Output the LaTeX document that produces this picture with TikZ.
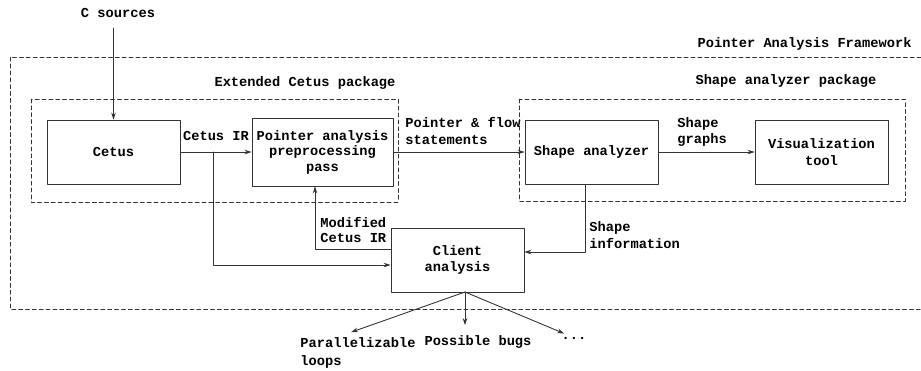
\documentclass[tikz,border=0pt]{standalone}
\usepackage{fontspec}
\setmonofont{Liberation Mono}
\usetikzlibrary{arrows.meta,calc}

\tikzset{
	box/.style={draw, minimum width=2.66cm, minimum height=1.28cm, align=center, inner sep=0pt},
	pkg/.style={dash pattern=on 2.2pt off 1.7pt},
	lbl/.style={inner sep=0pt, align=left}
}

\begin{document}
\begin{tikzpicture}[x=0.02cm, y=-0.02cm, font=\ttfamily\bfseries\fontsize{7.8}{9.6}\selectfont, line join=round, line cap=round, >={Stealth[length=4pt,width=2.6pt]}, line width=0.5pt, draw=black!80]
	\useasboundingbox (0,0) rectangle (921,370);
	% frames
	\draw[pkg] (921,57) -| (10,309) -- (921,309);
	\draw[pkg] (31,99) rectangle (398,202);
	\draw[pkg] (519,99) rectangle (905,201);
	\path (912,44) node[lbl, anchor=east] (fw) {Pointer Analysis Framework}
		(305,83) node[lbl] (ecp) {Extended Cetus package}
		(786,81) node[lbl] (sap) {Shape analyzer package};
	% boxes
	\node[box] (cetus) at (113.5,152) {Cetus};
	\node[box, minimum width=2.82cm, minimum height=1.36cm] (prep) at (322.5,152) {Pointer analysis\\[-0.8pt]preprocessing\\[-0.8pt]pass};
	\node[box] (shape) at (591.5,152) {Shape analyzer};
	\node[box] (vis) at (821.5,152) {Visualization\\tool};
	\node[box] (client) at (457.5,260) {Client\\analysis};
	% texts
	\path (118,13) node[lbl] (src) {C sources}
		(216,136) node[lbl] (cir) {Cetus IR}
		(405,131) node[lbl, anchor=west] (pfs) {Pointer \& flow\\statements}
		(677,132) node[lbl, anchor=west] (sg) {Shape\\graphs}
		(320,230) node[lbl, anchor=west] (mod) {Modified\\[-1.6pt]Cetus IR}
		(589,235) node[lbl, anchor=west] (sinfo) {Shape\\information}
		(300,353) node[lbl, anchor=west] (par) {Parallelizable\\[0.6pt]loops}
		(478,342) node[lbl] (bugs) {Possible bugs}
		(574,338) node[lbl] (dots) {...};
	\coordinate (br) at (213,152);
	\coordinate (fan) at (465,292);
	% connectors
	\draw[->] (src.south -| cetus.north) ++(0,10) -- (cetus.north);
	\draw[->] (cetus) -- (prep);
	\draw[->] (br) |- ($(client.west)+(0,5)$);
	\draw[->] ($(client.west)+(0,-11)$) -| ($(prep.south)+(-7.5,0)$);
	\draw[->] (prep) -- (shape);
	\draw[->] (shape) -- (vis);
	\draw[->] ($(shape.south)+(-6.5,0)$) |- ($(client.east)+(0,-8)$);
	\draw[->] (fan) -- ($(par.north)+(-7,-5)$);
	\draw[->] (fan) -- ($(fan |- bugs.north)+(0,-10)$);
	\draw[->] (fan) -- ($(dots.north west)+(3,-3)$);
\end{tikzpicture}
\end{document}
